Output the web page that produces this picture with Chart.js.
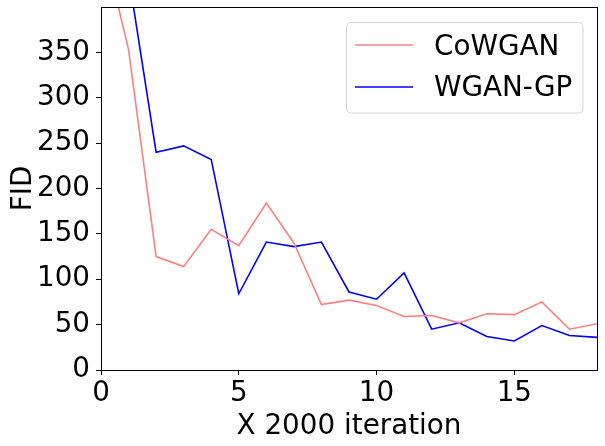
<!DOCTYPE html>
<html>
<head>
<meta charset="utf-8">
<script src="https://cdn.jsdelivr.net/npm/chart.js@4"></script>
<style>
html,body{margin:0;padding:0;background:#fff;}
#wrap{width:605px;height:446px;}
</style>
</head>
<body>
<div id="wrap"><canvas id="c" width="605" height="446"></canvas></div>
<script>
const iterations = [0,1,2,3,4,5,6,7,8,9,10,11,12,13,14,15,16,17,18];
const cowgan = [480,353,125,114,155,137,184,140,72,77,71,59,60,52,62,61,75,45,51];
const wgangp = [560,435,240,247,232,84,141,136,141,86,78,107,45,52,37,32,49,38,36];
const seriesNames = ['CoWGAN','WGAN-GP'];
const xTicks = [0,5,10,15];
const yTicks = [0,50,100,150,200,250,300,350];

const FONT = 'DejaVu Sans';
const FS = 27.8;

const framePlugin = {
  id: 'frame',
  afterDatasetsDraw(chart) {
    const {ctx, chartArea: a} = chart;
    ctx.save();
    ctx.strokeStyle = '#000';
    ctx.lineWidth = 1;
    ctx.strokeRect(Math.round(a.left)+0.5, Math.round(a.top)+0.5, Math.round(a.right-a.left), Math.round(a.bottom-a.top));
    ctx.restore();
  },
  afterDraw(chart) {
    const {ctx} = chart;
    const x0 = 346, y0 = 22, w = 237, h = 91;
    ctx.save();
    ctx.fillStyle = 'rgba(255,255,255,0.8)';
    ctx.strokeStyle = '#d6d6d6';
    ctx.lineWidth = 1;
    const r = 4;
    ctx.beginPath();
    ctx.moveTo(x0+r, y0+0.5);
    ctx.arcTo(x0+w, y0+0.5, x0+w, y0+h, r);
    ctx.arcTo(x0+w, y0+h, x0, y0+h, r);
    ctx.arcTo(x0+0.5, y0+h, x0+0.5, y0, r);
    ctx.arcTo(x0+0.5, y0+0.5, x0+w, y0+0.5, r);
    ctx.closePath();
    ctx.fill();
    ctx.stroke();
    ctx.font = FS + 'px "' + FONT + '"';
    ctx.textBaseline = 'alphabetic';
    ctx.fillStyle = '#000';
    const lineY = [45, 87];
    const baseY = [55, 96];
    chart.data.datasets.forEach((ds, i) => {
      ctx.strokeStyle = ds.borderColor;
      ctx.lineWidth = 1.6;
      ctx.beginPath();
      ctx.moveTo(355, lineY[i]);
      ctx.lineTo(413, lineY[i]);
      ctx.stroke();
      ctx.fillText(ds.label, 434, baseY[i]);
    });
    ctx.restore();
  }
};

new Chart(document.getElementById('c'), {
  type: 'line',
  data: {
    datasets: [
      { label: seriesNames[0], data: iterations.map((x,i)=>({x, y: cowgan[i]})), borderColor: '#ff7f7f', borderWidth: 1.6, pointRadius: 0, tension: 0, fill: false },
      { label: seriesNames[1], data: iterations.map((x,i)=>({x, y: wgangp[i]})), borderColor: '#0000ff', borderWidth: 1.6, pointRadius: 0, tension: 0, fill: false }
    ]
  },
  plugins: [framePlugin],
  options: {
    responsive: false,
    animation: false,
    devicePixelRatio: 1,
    layout: { padding: { left: 0, right: 8, top: 7, bottom: 0 } },
    plugins: { legend: { display: false }, tooltip: { enabled: false } },
    scales: {
      x: {
        type: 'linear', min: 0, max: 18,
        afterBuildTicks: s => { s.ticks = xTicks.map(v => ({value: v})); },
        afterFit: s => { s.height = 76; s.paddingLeft = 0; s.paddingRight = 0; },
        grid: { display: true, drawOnChartArea: false, tickLength: 5, color: '#000', tickColor: '#000' },
        border: { display: true, color: '#000' },
        ticks: { color: '#000', font: { family: FONT, size: FS }, padding: 2, maxRotation: 0 },
        title: { display: true, text: 'X 2000 iteration', color: '#000', font: { family: FONT, size: FS }, padding: { top: 0, bottom: 3 } }
      },
      y: {
        type: 'linear', min: 0, max: 400,
        afterBuildTicks: s => { s.ticks = yTicks.map(v => ({value: v})); },
        afterFit: s => { s.width = 101; s.paddingTop = 0; s.paddingBottom = 0; },
        grid: { display: true, drawOnChartArea: false, tickLength: 5, color: '#000', tickColor: '#000' },
        border: { display: true, color: '#000' },
        ticks: { color: '#000', font: { family: FONT, size: FS }, padding: 6 },
        title: { display: true, text: 'FID', color: '#000', font: { family: FONT, size: FS }, padding: { top: 7, bottom: 0 } }
      }
    }
  }
});
</script>
</body>
</html>
